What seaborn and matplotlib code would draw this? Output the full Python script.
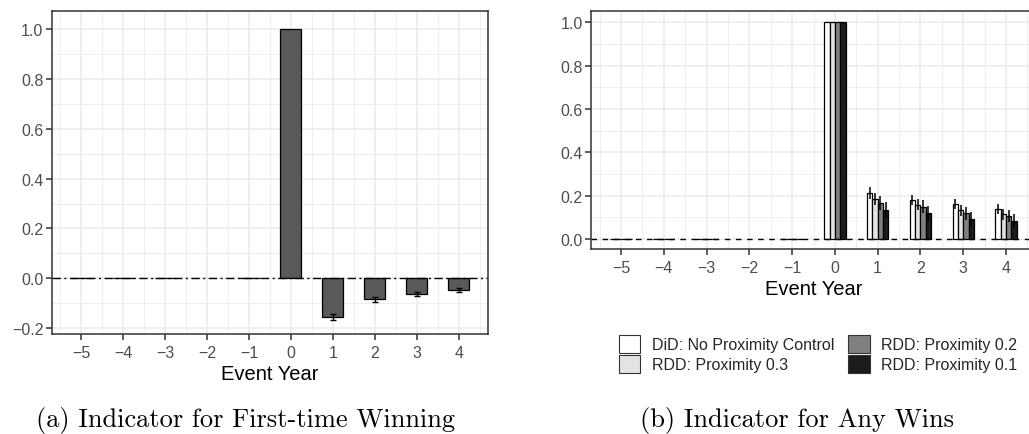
import numpy as np
import pandas as pd
import matplotlib
matplotlib.use("Agg")
import matplotlib.pyplot as plt
from matplotlib.ticker import MultipleLocator
import seaborn as sns

# ---------------- data ----------------
years = [-5, -4, -3, -2, -1, 0, 1, 2, 3, 4]
nan = np.nan

first_win = [0.0, 0.0, 0.0, nan, 0.0, 1.0, -0.155, -0.085, -0.064, -0.049]
first_win_err = [0.0, 0.0, 0.0, nan, 0.0, 0.0, 0.012, 0.010, 0.009, 0.008]

series_names = ["DiD: No Proximity Control", "RDD: Proximity 0.3",
                "RDD: Proximity 0.2", "RDD: Proximity 0.1"]
any_did = [0.0, 0.0, 0.0, nan, 0.0, 1.0, 0.212, 0.180, 0.162, 0.138]
any_rdd03 = [0.0, 0.0, 0.0, nan, 0.0, 1.0, 0.183, 0.158, 0.133, 0.114]
any_rdd02 = [0.0, 0.0, 0.0, nan, 0.0, 1.0, 0.168, 0.149, 0.118, 0.107]
any_rdd01 = [0.0, 0.0, 0.0, nan, 0.0, 1.0, 0.134, 0.118, 0.092, 0.084]
err_did = [0.0, 0.0, 0.0, nan, 0.0, 0.0, 0.026, 0.024, 0.024, 0.022]
err_rdd03 = [0.0, 0.0, 0.0, nan, 0.0, 0.0, 0.028, 0.026, 0.026, 0.025]
err_rdd02 = [0.0, 0.0, 0.0, nan, 0.0, 0.0, 0.032, 0.030, 0.030, 0.028]
err_rdd01 = [0.0, 0.0, 0.0, nan, 0.0, 0.0, 0.036, 0.034, 0.034, 0.032]

caption_a = "(a) Indicator for First-time Winning"
caption_b = "(b) Indicator for Any Wins"
x_title = "Event Year"

# ---------------- styling ----------------
sns.set_style("white")
plt.rcParams["font.family"] = ["Liberation Sans", "DejaVu Sans"]
plt.rcParams["axes.unicode_minus"] = True

grid_col = "#ebebeb"
frame_col = "#333333"
tick_col = "#4d4d4d"
fills = ["#ffffff", "#e3e3e3", "#808080", "#1c1c1c"]

df_a = pd.DataFrame({"year": years, "value": first_win, "err": first_win_err}).dropna()

rows = []
for name, vals, errs in zip(series_names,
                            [any_did, any_rdd03, any_rdd02, any_rdd01],
                            [err_did, err_rdd03, err_rdd02, err_rdd01]):
    for y, v, e in zip(years, vals, errs):
        rows.append({"year": y, "value": v, "err": e, "model": name})
df_b = pd.DataFrame(rows).dropna()

fig = plt.figure(figsize=(10.29, 4.35), dpi=100)
W, H = 1029.0, 435.0
ax1 = fig.add_axes([51.7 / W, 1 - 335 / H, (488.3 - 51.7) / W, (335 - 12.3) / H])
ax2 = fig.add_axes([591 / W, 1 - 250 / H, 445 / W, (250 - 12.3) / H])


def style_axes(ax, ymin, ymax):
    ax.set_xlim(-5.7, 4.7)
    ax.set_ylim(ymin, ymax)
    ax.xaxis.set_major_locator(MultipleLocator(1))
    ax.xaxis.set_minor_locator(MultipleLocator(0.5))
    ax.yaxis.set_major_locator(MultipleLocator(0.2))
    ax.yaxis.set_minor_locator(MultipleLocator(0.1))
    ax.grid(which="major", color=grid_col, lw=1.1, zorder=0)
    ax.grid(which="minor", color=grid_col, lw=0.6, zorder=0)
    ax.set_axisbelow(True)
    for s in ax.spines.values():
        s.set_visible(True)
        s.set_color(frame_col)
        s.set_linewidth(1.1)
    ax.tick_params(which="major", direction="out", length=4, width=1.1,
                   color=frame_col, labelcolor=tick_col, labelsize=11.5, pad=2,
                   bottom=True, left=True)
    ax.tick_params(axis="x", which="major", pad=4)
    ax.tick_params(which="minor", length=0)
    ax.yaxis.set_major_formatter(matplotlib.ticker.FuncFormatter(
        lambda v, p: f"{v:.1f}".replace("-", "\u2212")))
    ax.set_xlabel(x_title, fontsize=14.5, color="black", labelpad=3)
    ax.set_ylabel("")


# ---- panel (a)
sns.barplot(data=df_a, x="year", y="value", native_scale=True, width=0.5,
            color="#595959", edgecolor="black", linewidth=0.9, errorbar=None,
            saturation=1, ax=ax1)
ax1.axhline(0, color="black", lw=1.0, ls=(0, (6, 2.5, 1.5, 2.5)), zorder=1.5)
err_a = dict(zip(df_a["year"], df_a["err"]))
val_a = dict(zip(df_a["year"], df_a["value"]))
for bar in ax1.containers[0]:
    xc = bar.get_x() + bar.get_width() / 2
    yr = int(round(xc))
    if err_a.get(yr, 0) > 0:
        ax1.errorbar(xc, val_a[yr], yerr=err_a[yr], fmt="none", ecolor="black",
                     elinewidth=1.0, capsize=2.2, capthick=1.0, zorder=4)
style_axes(ax1, -0.224, 1.072)

# ---- panel (b)
sns.barplot(data=df_b, x="year", y="value", hue="model", hue_order=series_names,
            native_scale=True, width=0.5, palette=fills, edgecolor="black",
            linewidth=0.9, errorbar=None, saturation=1, ax=ax2)
ax2.axhline(0, color="black", lw=1.0, ls=(0, (4, 4)), zorder=1.5)
for cont, name in zip(ax2.containers, series_names):
    sub = df_b[df_b["model"] == name]
    e_map = dict(zip(sub["year"], sub["err"]))
    v_map = dict(zip(sub["year"], sub["value"]))
    for bar in cont:
        xc = bar.get_x() + bar.get_width() / 2
        yr = int(round(xc))
        if e_map.get(yr, 0) > 0:
            ax2.errorbar(xc, v_map[yr], yerr=e_map[yr], fmt="none",
                         ecolor="black", elinewidth=1.1, capsize=0, zorder=4)
style_axes(ax2, -0.046, 1.051)

handles, labels = ax2.get_legend_handles_labels()
if ax2.get_legend() is not None:
    ax2.get_legend().remove()
for h in handles:
    h.set_edgecolor("#333333")
    h.set_linewidth(0.8)
fig.legend(handles, labels, ncol=2, loc="center",
           bbox_to_anchor=(818 / W, 1 - 355 / H), frameon=False,
           fontsize=11.5, handlelength=1.35, handleheight=1.35,
           handletextpad=0.7, columnspacing=0.9, labelspacing=0.15,
           borderpad=0)

# ---- captions
cap_font = dict(family=["cmr10", "DejaVu Serif"], fontsize=19, color="black")
fig.text(245 / W, 1 - 421 / H, caption_a, ha="center", va="center", **cap_font)
fig.text(797 / W, 1 - 421 / H, caption_b, ha="center", va="center", **cap_font)

fig.savefig("out.png", dpi=100)
